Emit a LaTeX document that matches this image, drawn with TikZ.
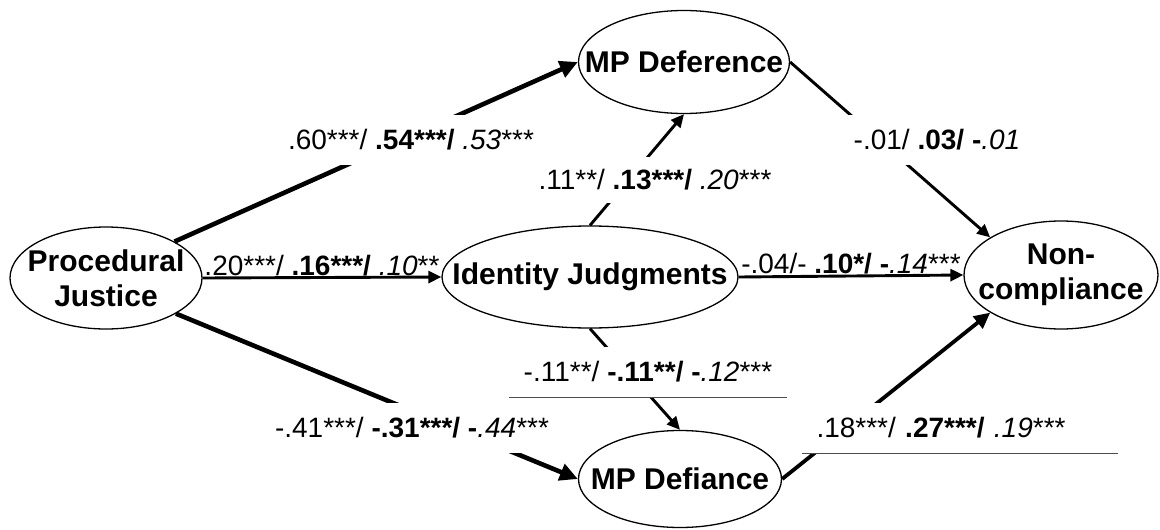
\documentclass[tikz,border=0pt]{standalone}
\usepackage{fontspec}
\setmainfont{Liberation Sans}
\usetikzlibrary{shapes.geometric,arrows.meta}
\begin{document}
\begin{tikzpicture}[x=1pt,y=-1pt,
  ell/.style={ellipse,draw,line width=1.3pt,inner sep=0pt},
  etext/.style={font=\fontsize{30}{35}\selectfont\bfseries,align=center,inner sep=0pt},
  lab/.style={font=\fontsize{28}{32}\selectfont,inner sep=0pt},
  box/.style={lab,fill=white,minimum height=50pt},
  thickarr/.style={line width=4.6pt,-{Triangle[length=18pt,width=17pt]}},
  midarr/.style={line width=3.8pt,-{Triangle[length=16pt,width=15pt]}},
  medarr/.style={line width=2.9pt,-{Triangle[length=13pt,width=12pt]}},
  uline/.style={line width=0.8pt,black!70}
]
\useasboundingbox (0,0) rectangle (1160,530);

% ellipses
\node[ell,minimum width=192pt,minimum height=102pt,label={[etext]center:Procedural\\Justice}] (pj) at (106,278) {};
\node[ell,minimum width=211pt,minimum height=103pt,label={[etext]center:MP Deference}] (mpd) at (684,62) {};
\node[ell,minimum width=296pt,minimum height=102pt,label={[etext]center:Identity Judgments}] (ij) at (590,277) {};
\node[ell,minimum width=194pt,minimum height=108pt,label={[etext]center:Non-\\compliance}] (nc) at (1061,275) {};
\node[ell,minimum width=203pt,minimum height=97pt,label={[etext]center:MP Defiance}] (mpf) at (680,479) {};

% connectors
\draw[thickarr] (pj.28) -- (mpd.west);
\draw[medarr] (pj.east) -- (ij.west);
\draw[thickarr] (pj.-27) -- (mpf.west);
\draw[medarr] (ij.north) -- (mpd.south);
\draw[medarr] (ij.south) -- (mpf.north);
\draw[medarr] (ij.east) -- (nc.west);
\draw[medarr] (mpd.east) -- (nc.152);
\draw[midarr] (mpf.east) -- (nc.-152);

% labels
\node[box,minimum width=260pt] (l1) at (411,140) {.60***/ \textbf{.54***/} \textit{.53}***};
\node[box,minimum width=250pt,minimum height=46pt] (l2) at (655,180) {.11**/ \textbf{.13***/} \textit{.20}***};
\node[box,minimum width=200pt] (l3) at (937,140) {-.01/ \textbf{.03/ -}\textit{.01}};
\node[lab,anchor=base] (l4) at (322,275) {.20***/ \textbf{.16***/} \textit{.10}**};
\node[lab,anchor=base] (l5) at (851,273) {-.04/- \textbf{.10*/ -}\textit{.14}***};
\node[box,minimum width=277pt] (l6) at (648,372) {-.11**/ \textbf{-.11**/ -}\textit{.12}***};
\draw[uline] (l6.south west) -- (l6.south east);
\node[box,minimum width=288pt] (l7) at (412,428) {-.41***/ \textbf{-.31***/ -}\textit{.44}***};
\node[box,text width=287pt,inner xsep=14pt,align=left] (l8) at (960,428) {.18***/ \textbf{.27***/} \textit{.19}***};
\draw[uline] (l8.south west) -- (l8.south east);
\end{tikzpicture}
\end{document}
